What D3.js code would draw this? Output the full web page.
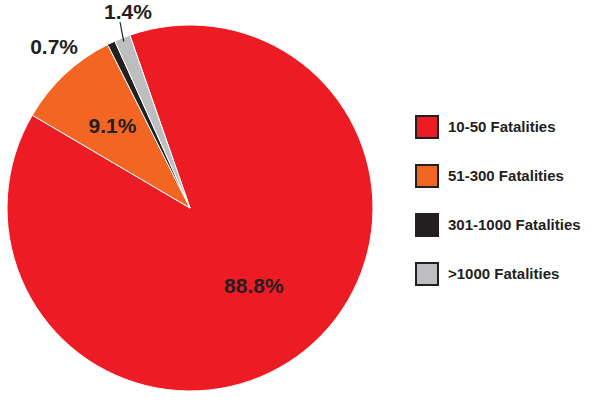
<!DOCTYPE html>
<html><head><meta charset="utf-8">
<script src="https://cdn.jsdelivr.net/npm/d3@7"></script>
<style>body{margin:0;background:#fff}</style>
</head><body>
<svg id="canvas" width="597" height="417"></svg>
<script>
'use strict';
// categories and shares (percent)
const categories = ['10-50 Fatalities', '51-300 Fatalities', '301-1000 Fatalities', '>1000 Fatalities'];
const shares = [88.8, 9.1, 0.7, 1.4];
const labels = ['88.8%', '9.1%', '0.7%', '1.4%'];
const colors = ['#ED1C24', '#F26522', '#231F20', '#BCBEC0'];

const font = '"Liberation Sans Narrow", "Arial Narrow", "Liberation Sans", sans-serif';
const svg = d3.select('#canvas');
const cx = 190, cy = 208, r = 183;
const startDeg = -19.2;

/* the pie starts just left of 12 o'clock and runs clockwise */
const pie = d3.pie().sort(null).value(d => d)
  .startAngle(startDeg * Math.PI / 180)
  .endAngle((startDeg + 360) * Math.PI / 180);
const arcs = pie(shares);
const arc = d3.arc().innerRadius(0).outerRadius(r);

const g = svg.append('g').attr('transform', `translate(${cx},${cy})`);
g.selectAll('path').data(arcs).enter().append('path')
  .attr('d', arc)
  .attr('fill', (d, i) => colors[i])
  .attr('stroke', '#fff')
  .attr('stroke-width', 1);

/* inner labels for the two big slices */
const inner = [{i: 0, rr: 0.55}, {i: 1, rr: 0.62}];
inner.forEach(o => {
  const c = d3.arc().innerRadius(r * o.rr).outerRadius(r * o.rr).centroid(arcs[o.i]);
  g.append('text').attr('x', c[0]).attr('y', c[1]).attr('dy', '0.35em')
    .attr('text-anchor', 'middle')
    .style('font-family', font).style('font-size', '21px').style('font-weight', 'bold')
    .attr('fill', '#231F20').text(labels[o.i]);
});

/* outer labels with leader lines for the thin slices */
const outer = [
  {i: 2, tx: -112, ty: -161, lx: -82, ly: -163, anchor: 'end'},
  {i: 3, tx: -62, ty: -196, lx: -70, ly: -186, anchor: 'middle'}
];
outer.forEach(o => {
  const p = d3.arc().innerRadius(r - 4).outerRadius(r - 4).centroid(arcs[o.i]);
  g.append('line').attr('x1', p[0]).attr('y1', p[1]).attr('x2', o.lx).attr('y2', o.ly)
    .attr('stroke', '#231F20').attr('stroke-width', 1.2);
  g.append('text').attr('x', o.tx).attr('y', o.ty).attr('dy', '0.35em')
    .attr('text-anchor', o.anchor)
    .style('font-family', font).style('font-size', '21px').style('font-weight', 'bold')
    .attr('fill', '#231F20').text(labels[o.i]);
});

/* legend */
const y = d3.scalePoint().domain(categories).range([127, 274]);
const leg = svg.append('g').selectAll('g').data(categories).enter().append('g')
  .attr('transform', d => `translate(416,${y(d)})`);
leg.append('rect').attr('x', 0).attr('y', -11).attr('width', 22).attr('height', 22)
  .attr('fill', (d, i) => colors[i]).attr('stroke', '#231F20').attr('stroke-width', 2);
leg.append('text').attr('x', 32).attr('y', 0).attr('dy', '0.35em')
  .style('font-family', font).style('font-size', '15px').style('font-weight', 'bold')
  .attr('fill', '#231F20').text(d => d);
</script>
</body></html>
